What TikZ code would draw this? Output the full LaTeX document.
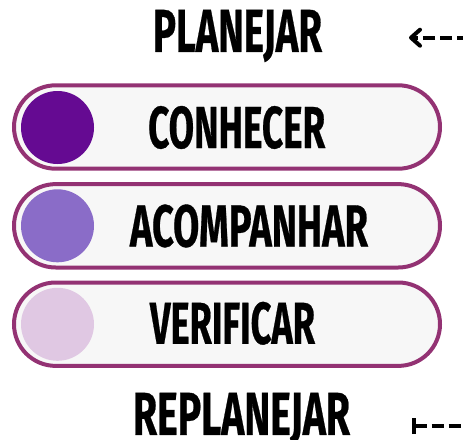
\documentclass[tikz,border=0pt]{standalone}
\usepackage{fontspec}
\usepackage{graphicx}
\newfontfamily\hfont{Fira Sans}[FakeBold=0.6]
\usetikzlibrary{arrows.meta}
\definecolor{pillline}{RGB}{147,50,115}
\definecolor{pillfill}{RGB}{247,247,247}
\definecolor{dotA}{RGB}{101,10,146}
\definecolor{dotB}{RGB}{138,108,200}
\definecolor{dotC}{RGB}{224,200,227}
\tikzset{
  pill/.style={draw=pillline, fill=pillfill, line width=4pt,
    rounded corners=41.7pt, minimum width=426pt, minimum height=83.4pt,
    inner sep=0pt},
  dot/.style={circle, minimum size=73pt, inner sep=0pt},
  word/.style={inner sep=0pt, text=black},
  flow/.style={line width=3.6pt, dash pattern=on 12pt off 5pt}
}
\newcommand{\wordbox}[3]{\resizebox{#1pt}{#2pt}{\hfont\bfseries #3}}
\begin{document}
\begin{tikzpicture}[x=1pt, y=-1pt]
  \useasboundingbox (0,0) rectangle (463,439);
  % three stacked pills
  \node[pill] (p1) at (227,127) {};
  \node[pill] (p2) at (227,225.8) {};
  \node[pill] (p3) at (227,324.2) {};
  % coloured dots
  \node[dot, fill=dotA] (d1) at (57.5,127.5) {};
  \node[dot, fill=dotB] (d2) at (57.5,225.8) {};
  \node[dot, fill=dotC] (d3) at (57.5,324.3) {};
  % labels
  \node[word] (plan) at (237.5,36) {\wordbox{169}{42}{PLANEJAR}};
  \node[word] (conh) at (236.7,127.5) {\wordbox{177}{42}{CONHECER}};
  \node[word] (acomp) at (249,226) {\wordbox{238}{42}{ACOMPANHAR}};
  \node[word] (verif) at (232.5,323.3) {\wordbox{165}{42}{VERIFICAR}};
  \node[word] (replan) at (241.5,419) {\wordbox{217}{42}{REPLANEJAR}};
  % dashed side arrows
  \coordinate (inR) at (466,37.7);
  \coordinate (inTip) at (409,37.7);
  \coordinate (outR) at (466,426);
  \coordinate (outBar) at (411.5,426);
  \draw[flow, dash phase=3pt, -{Straight Barb[length=9pt, width=16pt, line width=4pt, round]}] (inR) -- (inTip);
  \draw[flow, {Bar[width=16pt, line width=4pt]}-] (outBar) -- (outR);
\end{tikzpicture}
\end{document}
